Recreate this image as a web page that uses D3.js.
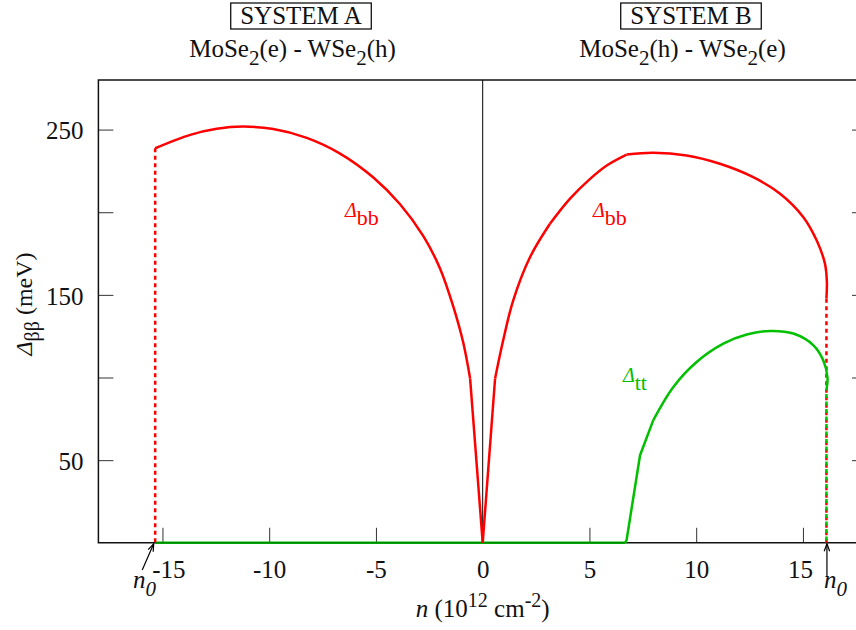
<!DOCTYPE html>
<html><head><meta charset="utf-8">
<script src="https://cdn.jsdelivr.net/npm/d3@7"></script>
<style>
body{margin:0;background:#fff}
svg{display:block}
text, tspan{font-family:"Liberation Serif","Times New Roman",serif}
</style>
</head><body>
<svg id="c" width="856" height="630"></svg>
<script>
// ---------- data ----------
const xTicks = [-15, -10, -5, 0, 5, 10, 15];
const xTickLabels = ["-15", "-10", "-5", "0", "5", "10", "15"];
const yTicks = [50, 100, 150, 200, 250];
const yTickLabels = ["50", "", "150", "", "250"];
const n0A = -15.34, n0B = 16.1;

// System A, Delta_bb
const bbA_arc = [[-15.34,238.7],[-13.7,246.8],[-12.46,250.5],[-11.21,251.8],[-9.81,250.3],[-8.24,245.0],[-6.68,235.5],[-5.12,221.0],[-3.87,204.8],[-2.78,185.5],[-2.0,166],[-1.38,143],[-0.91,121],[-0.59,99.4]];
const bbA_drop = [[-0.59,99.4],[0,0]];
// System B, Delta_bb
const bbB_rise = [[0,0],[0.58,99.4]];
const bbB_low = [[0.58,99.4],[0.96,122.5],[1.43,146.7],[2.22,172.9],[3.15,193]];
const bbB_mid = [[3.15,193],[4.09,208.2],[5.03,220.2],[5.81,228.3],[6.74,234.9]];
const bbB_high = [[6.74,234.9],[7.99,236],[9.55,234.3],[11.11,229.3],[12.67,221.2],[13.93,211.2],[15.02,197],[15.64,183],[16.03,168.9],[16.12,158],[16.1,147.7]];
// Delta_tt (zero for system A and low n of system B)
const ttFlat = [[-15.34,0],[6.67,0]];
const ttB_rise = [[6.67,0],[6.74,1.7],[7.37,53],[7.99,74.2]];
const ttB_arc = [[7.99,74.2],[8.93,94.3],[10.02,109.4],[11.27,120.5],[12.37,126],[13.46,128.2],[14.55,126.6],[15.49,119.5],[15.95,110.5],[16.15,100],[16.1,92.3]];
// vertical dotted drops at n0
const dropA_bb = [[n0A,238.7],[n0A,0]];
const dropB_bb = [[n0B,147.7],[n0B,0]];
const dropB_tt = [[n0B,92.3],[n0B,0]];

// ---------- setup ----------
const RED = "#ff0000", GREEN = "#00c000";
const FS = 25;
const FONT = '"Liberation Serif","Times New Roman",serif';
const svg = d3.select("#c");
const L = 98.4, R = 867, T = 80, B = 542.8;
const x = d3.scaleLinear().domain([-18, 18]).range([L, R]);
const y = d3.scaleLinear().domain([0, 280]).range([B, T]);

// axes
const gx = svg.append("g").attr("transform", `translate(0,${B})`)
  .call(d3.axisBottom(x).tickValues(xTicks).tickFormat((d,i)=>xTickLabels[i]).tickSizeInner(-15).tickSizeOuter(0).tickPadding(17));
const gy = svg.append("g").attr("transform", `translate(${L},0)`)
  .call(d3.axisLeft(y).tickValues(yTicks).tickFormat((d,i)=>yTickLabels[i]).tickSizeInner(-15).tickSizeOuter(0).tickPadding(15));
const gr = svg.append("g").attr("transform", `translate(${R},0)`)
  .call(d3.axisRight(y).tickValues(yTicks).tickFormat("").tickSizeInner(-15).tickSizeOuter(0));
[gx, gy, gr].forEach(g => {
  g.attr("font-family", FONT).attr("font-size", null);
  g.select(".domain").remove();
  g.selectAll(".tick line").attr("stroke", "#333").attr("stroke-width", 1);
  g.selectAll(".tick text").attr("fill", "#111").style("font-size", FS + "px").style("font-family", FONT);
});
gy.selectAll(".tick text").attr("dy", "0.37em");
gx.selectAll(".tick text").filter(d => d === -15).attr("dx", 6);
gx.selectAll(".tick text").filter(d => d === 15).attr("dx", -3);

// zero line at n = 0
svg.append("line").attr("x1", x(0)).attr("x2", x(0)).attr("y1", T).attr("y2", B)
  .attr("stroke", "#000").attr("stroke-width", 1);

// frame
svg.append("path")
  .attr("d", `M${L},${B}V${T}H${R}V${B}Z`)
  .attr("fill", "none").attr("stroke", "#111").attr("stroke-width", 1.5);

// ---------- curves ----------
const smooth = d3.line().x(d => x(d[0])).y(d => y(d[1])).curve(d3.curveCatmullRom.alpha(0.5));
const straight = d3.line().x(d => x(d[0])).y(d => y(d[1]));
function draw(data, gen, color, dash, offset) {
  const p = svg.append("path").attr("d", gen(data)).attr("fill", "none")
    .attr("stroke", color).attr("stroke-width", 2.5).attr("stroke-linejoin", "round");
  if (dash) p.attr("stroke-dasharray", dash).attr("stroke-dashoffset", offset || 0);
  return p;
}
draw(ttFlat, straight, GREEN);
// darken axis under green
svg.append("line").attr("x1", x(n0A)).attr("x2", x(6.67)).attr("y1", B).attr("y2", B)
  .attr("stroke", "#000").attr("stroke-width", 1).attr("stroke-opacity", 0.45);

draw(dropA_bb, straight, RED, "4,3.5");
draw(dropB_bb, straight, RED, "4,3.5");
draw(dropB_tt, straight, GREEN, "4,3.5", 3.75);

draw(bbA_arc, smooth, RED);
draw(bbA_drop, straight, RED);
draw(bbB_rise, straight, RED);
draw(bbB_low, smooth, RED);
draw(bbB_mid, smooth, RED);
draw(bbB_high, smooth, RED);
draw(ttB_rise, straight, GREEN);
draw(ttB_arc, smooth, GREEN);

// ---------- text helpers ----------
function rich(parent, px, py, parts, opts = {}) {
  const t = parent.append("text").attr("x", px).attr("y", py).style("font-family", FONT)
    .attr("text-anchor", opts.anchor || "start").attr("fill", opts.color || "#111");
  if (opts.rotate) t.attr("transform", `rotate(${opts.rotate},${px},${py})`);
  let shift = 0;
  parts.forEach(p => {
    const target = p.shift || 0;
    const s = t.append("tspan").text(p.t).style("font-size", (p.size || FS) + "px").style("font-family", FONT);
    if (p.italic) s.style("font-style", "italic");
    if (target !== shift) { s.attr("dy", target - shift); shift = target; }
  });
  return t;
}

// titles
function title(cx, label, formula) {
  const t = svg.append("text").attr("x", cx).attr("y", 24).attr("text-anchor", "middle")
    .attr("fill", "#111").style("font-size", FS + "px").style("font-family", FONT).text(label);
  const bb = t.node().getBBox();
  svg.append("rect").attr("x", bb.x - 9.5).attr("y", 3).attr("width", bb.width + 19).attr("height", 26)
    .attr("fill", "none").attr("stroke", "#111").attr("stroke-width", 1.3);
  rich(svg, cx - 8.5, 56.7, formula, { anchor: "middle" });
}
title(301, "SYSTEM A", [{t:"MoSe"},{t:"2",size:21,shift:8},{t:"(e) - WSe"},{t:"2",size:21,shift:8},{t:"(h)"}]);
title(691, "SYSTEM B", [{t:"MoSe"},{t:"2",size:21,shift:8},{t:"(h) - WSe"},{t:"2",size:21,shift:8},{t:"(e)"}]);

// axis titles
rich(svg, x(0), 616.7, [{t:"n",italic:true},{t:" (10"},{t:"12",size:20,shift:-10},{t:" cm"},{t:"-2",size:20,shift:-10},{t:")"}], { anchor: "middle" });
rich(svg, 32, 304, [{t:"Δ",italic:true,size:24},{t:"ββ",size:20,shift:7},{t:" (meV)",size:24}], { anchor: "middle", rotate: -90 });

// curve labels
function curveLabel(n, v, sub, color) {
  rich(svg, x(n), y(v), [{t:"Δ",italic:true,size:20},{t:sub,size:22,shift:8}], { color });
}
curveLabel(-6.45, 197, "bb", RED);
curveLabel(5.17, 197, "bb", RED);
curveLabel(6.57, 97.2, "tt", GREEN);

// n0 arrows
function arrow(x1, y1, x2, y2) {
  svg.append("line").attr("x1", x1).attr("y1", y1).attr("x2", x2).attr("y2", y2)
    .attr("stroke", "#000").attr("stroke-width", 1.2);
  const a = Math.atan2(y2 - y1, x2 - x1), len = 8, w = 0.35;
  const p1 = [x2 - len * Math.cos(a - w), y2 - len * Math.sin(a - w)];
  const p2 = [x2 - len * Math.cos(a + w), y2 - len * Math.sin(a + w)];
  svg.append("path").attr("d", `M${p1}L${x2},${y2}L${p2}`).attr("fill", "none")
    .attr("stroke", "#000").attr("stroke-width", 1.2);
}
arrow(x(n0A) - 13, 570, x(n0A) - 1.5, B + 1);
arrow(x(n0B) + 0.5, 576, x(n0B) + 0.5, B + 1);
rich(svg, 133, 588.3, [{t:"n",italic:true},{t:"0",italic:true,size:21,shift:8}]);
rich(svg, 824, 588.3, [{t:"n",italic:true},{t:"0",italic:true,size:21,shift:8}]);
</script>
</body></html>
